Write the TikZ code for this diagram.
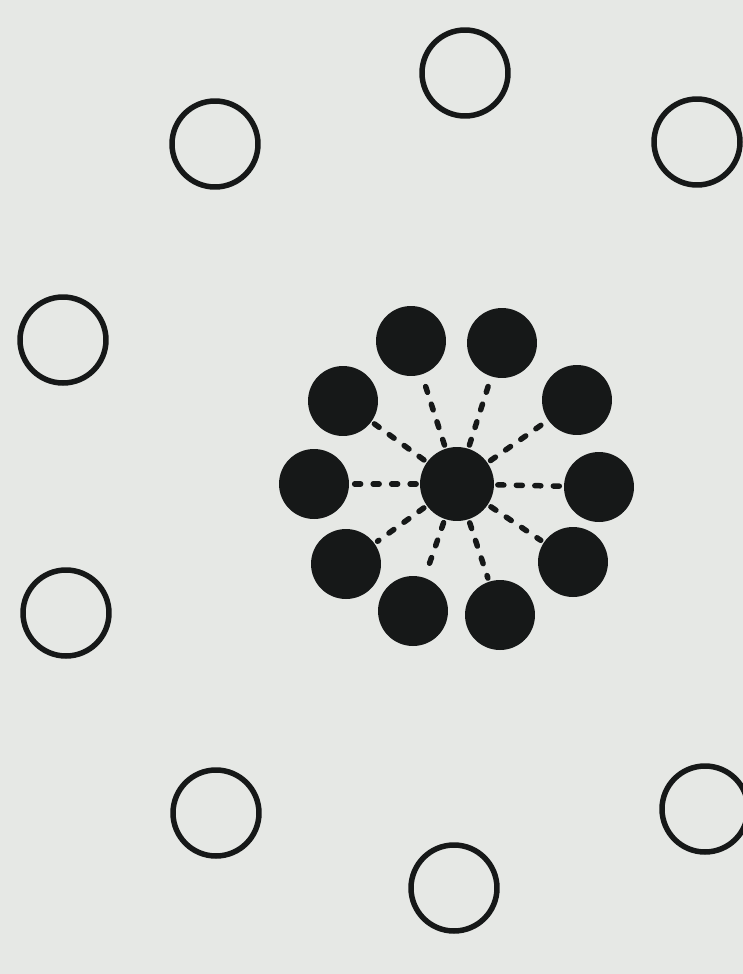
\documentclass[tikz,border=0pt]{standalone}
\usepackage{tikz}
\definecolor{paper}{RGB}{230,232,229}
\definecolor{ink}{RGB}{22,24,24}
\begin{document}
\begin{tikzpicture}[
    x=0.02cm, y=-0.02cm,
    ring/.style={draw=ink, circle, line width=0.11cm, minimum size=1.72cm, inner sep=0pt},
    ball/.style={fill=ink, circle, minimum size=1.4cm, inner sep=0pt},
    core/.style={fill=ink, circle, minimum size=1.48cm, inner sep=0pt},
    link/.style={draw=ink, line width=0.11cm, line cap=round,
      dash pattern=on 0.12cm off 0.25cm, shorten <=2pt, shorten >=2pt},
  ]
    % Paper
    \fill[paper] (0,0) rectangle (743,974);
    \useasboundingbox (0,0) rectangle (743,974);
    \clip (0,0) rectangle (743,974);

    % Outer ring
    \node[ring] (o1) at (465, 73) {};
    \node[ring] (o2) at (215,144) {};
    \node[ring] (o3) at (697,142) {};
    \node[ring] (o4) at ( 63,340) {};
    \node[ring] (o5) at ( 66,613) {};
    \node[ring] (o6) at (216,813) {};
    \node[ring] (o7) at (705,809) {};
    \node[ring] (o8) at (454,888) {};

    % Cluster
    \node[core] (c) at (457,484) {};
    \node[ball] (b1)  at (411,341) {};
    \node[ball] (b2)  at (502,343) {};
    \node[ball] (b3)  at (343,401) {};
    \node[ball] (b4)  at (577,400) {};
    \node[ball] (b5)  at (314,484) {};
    \node[ball] (b6)  at (599,487) {};
    \node[ball] (b7)  at (346,564) {};
    \node[ball] (b8)  at (573,562) {};
    \node[ball] (b9)  at (413,611) {};
    \node[ball] (b10) at (500,615) {};

    % Bonds
    \foreach \i in {1,...,10}
      \draw[link] (c) -- (b\i);
\end{tikzpicture}
\end{document}
